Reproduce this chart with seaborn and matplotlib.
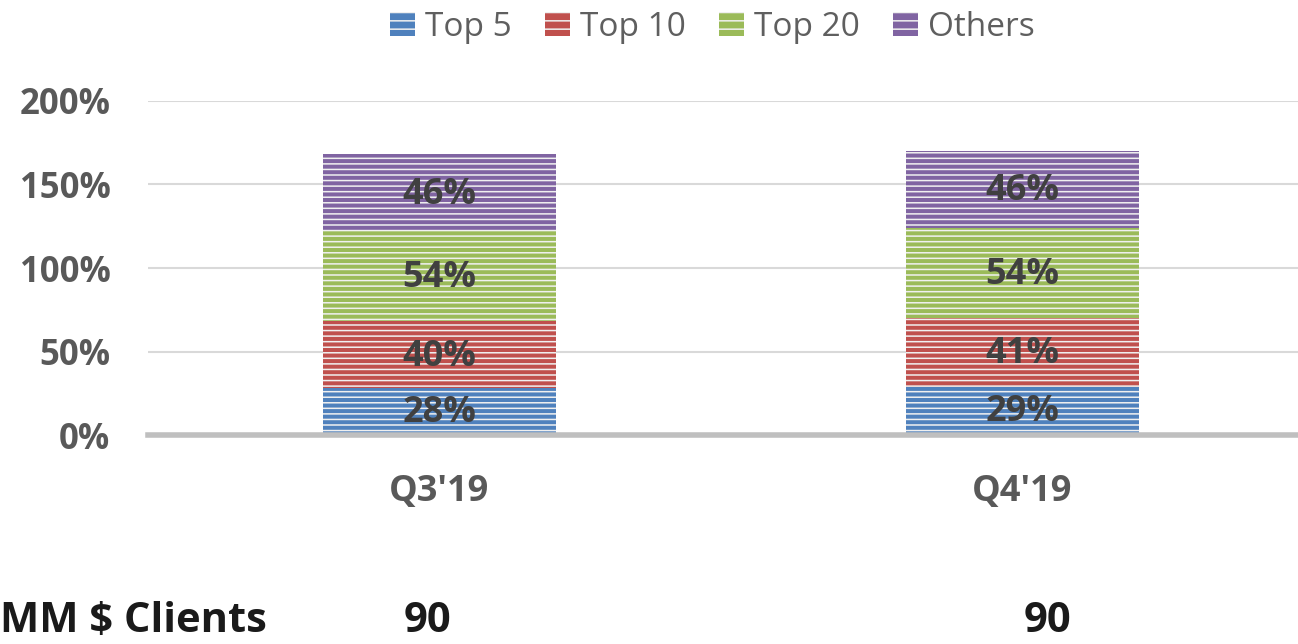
import numpy as np
import pandas as pd
import matplotlib
matplotlib.use("Agg")
import matplotlib.pyplot as plt
import seaborn as sns
from matplotlib.patches import Patch

# data
quarters = ["Q3'19", "Q4'19"]
series = ["Top 5", "Top 10", "Top 20", "Others"]
top5 = [28, 29]
top10 = [40, 41]
top20 = [54, 54]
others = [46, 46]
clients = [90, 90]
colors = ["#4f81bd", "#c0504d", "#9bbb59", "#8064a2"]

sns.set_theme(style="white")
plt.rcParams["font.family"] = ["Open Sans", "DejaVu Sans"]
plt.rcParams["hatch.linewidth"] = 1.1

df = pd.DataFrame({"quarter": quarters, "Top 5": top5, "Top 10": top10,
                   "Top 20": top20, "Others": others})
vals = df[series].to_numpy()
cum = vals.cumsum(axis=1)

fig = plt.figure(figsize=(12.98, 6.44), dpi=100)
ax = fig.add_axes([0.114, 0.3245, 0.886, 0.5187])

# draw cumulative totals from the top down so each stack segment shows
for i in range(len(series) - 1, -1, -1):
    sns.barplot(x=df["quarter"], y=cum[:, i], color=colors[i], width=0.4,
                saturation=1, ax=ax, hatch="---", edgecolor="#f0f0f0",
                linewidth=0)

for j in range(len(quarters)):
    for i in range(len(series)):
        mid = cum[j, i] - vals[j, i] / 2
        ax.text(j, mid - 1, f"{vals[j, i]}%", ha="center", va="center",
                fontsize=26, fontweight="bold", color="#404040")

ax.set_ylim(0, 200)
ax.set_xlim(-0.5, 1.473)
ax.set_yticks([0, 50, 100, 150, 200])
ax.set_yticklabels([f"{t}%" for t in [0, 50, 100, 150, 200]])
ax.yaxis.grid(True, color="#d9d9d9", linewidth=1.5)
ax.set_axisbelow(True)
ax.tick_params(axis="y", length=0, pad=27, labelsize=25, labelcolor="#595959")
ax.tick_params(axis="x", length=0, pad=28, labelsize=26, labelcolor="#595959")
for lab in ax.get_xticklabels() + ax.get_yticklabels():
    lab.set_fontweight("bold")
ax.set_xlabel("")
ax.set_ylabel("")
for s in ["top", "right", "left"]:
    ax.spines[s].set_visible(False)
ax.spines["bottom"].set_color("#bfbfbf")
ax.spines["bottom"].set_linewidth(4)

handles = [Patch(facecolor=c, hatch="--", edgecolor="#f0f0f0", linewidth=0)
           for c in colors]
fig.legend(handles, series, loc="upper center", bbox_to_anchor=(0.549, 1.03),
           ncol=4, frameon=False, fontsize=24, handlelength=0.75,
           handleheight=0.75, handletextpad=0.3, columnspacing=1.0,
           labelcolor="#5f5f5f")

fig.text(0.0, 0.035, "MM $ Clients", fontsize=30, fontweight="bold",
         color="#1a1a1a", ha="left", va="center")
for x, c in zip([0.329, 0.807], clients):
    fig.text(x, 0.035, str(c), fontsize=30, fontweight="bold",
             color="#1a1a1a", ha="center", va="center")

fig.savefig("out.png", dpi=100)
